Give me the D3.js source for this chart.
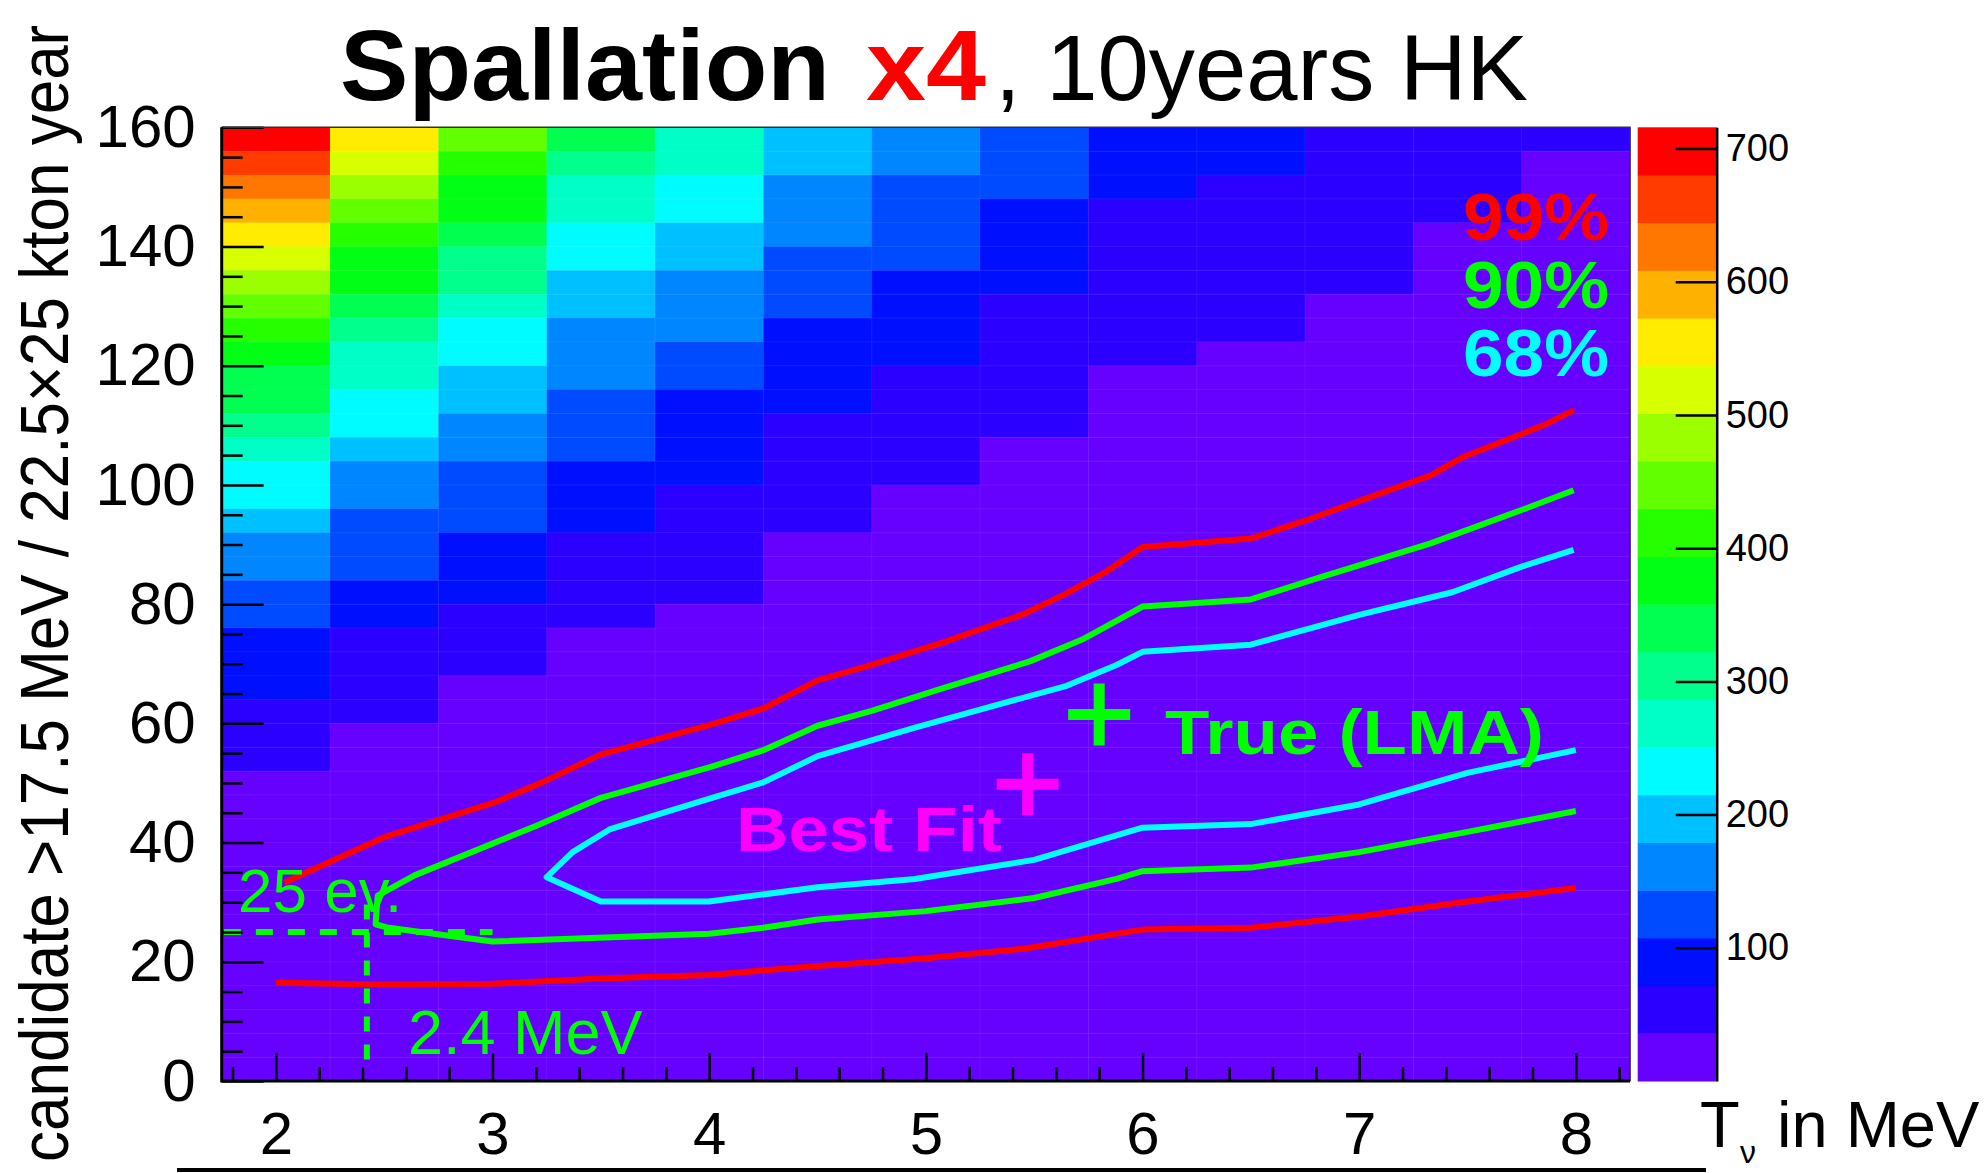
<!DOCTYPE html>
<meta charset="utf-8">
<script src="https://d3js.org/d3.v7.min.js"></script>
<style>
body { margin: 0; background: #fff; }
svg { display: block; }
text { font-family: "Liberation Sans", Arial, Helvetica, sans-serif; }
</style>
<svg id="chart" width="1988" height="1173"></svg>
<script>

// ---- data ----
// neutrino kinetic energy bin centres (bin width 0.5 MeV)
var energies = [2, 2.5, 3, 3.5, 4, 4.5, 5, 5.5, 6, 6.5, 7, 7.5, 8];
// lower edge of each rate bin, top row first (bin width 4)
var rateLow = [156,152,148,144,140,136,132,128,124,120,116,112,108,104,100,96,92,88,84,80,
               76,72,68,64,60,56,52,48,44,40,36,32,28,24,20,16,12,8,4,0];
// counts per cell, one row per rate bin (same order as rateLow), one column per energy
var counts = [
  [706,556,447,341,269,197,162,126,94,88,63,56,44],
  [664,521,414,305,262,191,158,121,89,83,60,52,32],
  [628,486,377,271,236,163,133,114,86,68,57,48,30],
  [594,449,371,262,228,158,129,101,69,64,54,43,29],
  [556,413,341,234,201,151,124,97,66,62,51,33,27],
  [519,377,305,226,193,137,119,94,64,59,46,31,25],
  [486,370,298,205,170,129,103,88,61,56,43,30,24],
  [449,343,268,196,164,123,97,67,58,52,33,28,23],
  [414,304,236,172,156,104,92,63,54,47,32,27,22],
  [378,270,230,164,137,98,86,60,50,34,30,26,21],
  [344,262,200,157,129,93,66,56,34,31,29,25,20],
  [336,235,193,138,104,86,63,53,33,30,27,24,20],
  [306,229,170,129,97,70,60,49,32,29,26,23,19],
  [270,199,162,121,92,66,56,34,30,28,25,22,19],
  [236,172,137,103,88,62,52,33,29,27,24,21,18],
  [229,160,128,96,68,58,34,31,28,26,23,20,18],
  [196,139,121,90,64,54,33,30,27,25,22,20,17],
  [168,130,101,68,60,34,31,29,26,24,21,19,17],
  [160,122,95,63,56,33,30,28,25,23,21,19,16],
  [134,104,89,59,52,32,29,27,24,22,20,18,16],
  [126,96,67,55,34,31,28,26,23,21,20,18,15],
  [102,69,61,34,32,30,27,25,22,21,19,17,15],
  [96,64,57,33,31,29,26,24,22,20,19,17,15],
  [91,60,34,32,30,28,25,23,21,20,18,16,14],
  [66,57,33,31,29,27,25,23,21,19,18,16,14],
  [62,34,32,30,28,26,24,22,20,19,17,16,14],
  [58,33,31,29,27,25,23,22,20,18,17,15,13],
  [34,32,30,28,26,24,23,21,19,18,16,15,13],
  [33,31,29,27,25,24,22,20,19,17,16,14,13],
  [32,30,28,26,25,23,21,20,18,17,15,14,12],
  [31,29,27,26,24,22,21,19,18,16,15,14,12],
  [30,28,27,25,23,22,20,19,17,16,15,13,12],
  [29,28,26,24,23,21,20,18,17,15,14,13,11],
  [28,27,25,24,22,21,19,18,16,15,14,12,11],
  [27,26,24,23,22,20,19,17,16,15,13,12,11],
  [26,25,24,22,21,20,18,17,16,14,13,12,10],
  [25,24,23,22,20,19,18,16,15,14,13,11,10],
  [24,23,22,21,20,18,17,16,15,13,12,11,10],
  [23,22,21,20,19,18,17,15,14,13,12,11,10],
  [22,21,20,19,18,17,16,15,14,13,12,11,9]
];

// confidence contours, [T_nu, rate]
var cl99Upper = [[2.04,33.3],[2.5,40.9],[3.0,46.6],[3.23,50.1],[3.5,54.8],[4.0,59.7],[4.25,62.5],[4.5,67.2],
  [4.75,69.8],[5.08,73.6],[5.45,78.3],[5.65,81.8],[5.83,85.4],[6.0,89.6],[6.5,91.0],[6.75,94.0],
  [7.03,97.7],[7.33,101.6],[7.48,104.7],[7.85,110.0],[7.99,112.5]];
var cl99Lower = [[2.0,16.5],[2.5,16.2],[3.0,16.3],[3.5,17.2],[4.0,17.8],[4.5,19.3],[5.0,20.6],[5.45,22.2],
  [6.0,25.4],[6.5,25.7],[7.0,27.6],[7.5,30.1],[8.0,32.4]];
var cl90Upper = [[2.47,31.1],[2.64,34.5],[3.2,42.8],[3.5,47.5],[4.0,52.6],[4.25,55.5],[4.5,59.6],[4.75,62.1],
  [5.08,65.9],[5.48,70.4],[5.73,74.2],[6.0,79.6],[6.5,80.8],[6.83,84.6],[7.33,90.2],[7.75,95.8],[7.99,99.1]];
var cl90Lower = [[2.47,31.1],[2.46,26.3],[2.52,25.7],[3.0,23.4],[4.0,24.7],[4.25,25.7],[4.5,27.1],[5.0,28.5],
  [5.5,30.7],[5.88,33.9],[6.0,35.2],[6.5,35.8],[7.0,38.4],[7.5,41.8],[8.0,45.3]];
var cl68Upper = [[3.25,34.2],[3.37,38.4],[3.54,42.2],[3.96,46.9],[4.25,50.1],[4.5,54.5],[4.95,59.3],[5.3,62.8],
  [5.65,66.3],[5.88,69.8],[6.0,72.0],[6.5,73.2],[7.0,78.2],[7.43,82.0],[7.75,86.3],[7.99,89.1]];
var cl68Lower = [[3.25,34.2],[3.5,30.1],[4.0,30.1],[4.5,32.5],[4.95,33.9],[5.5,37.1],[6.0,42.5],[6.5,43.1],
  [7.0,46.4],[7.5,51.7],[8.0,55.5]];

var trueLMA = [5.8, 61.5];
var bestFit = [5.47, 49.8];
var cut25 = 25;      // "25 ev." level
var cut24 = 2.42;    // "2.4 MeV" threshold line

var xTicks = [2, 3, 4, 5, 6, 7, 8];
var yTicks = [0, 20, 40, 60, 80, 100, 120, 140, 160];
var zTicks = [100, 200, 300, 400, 500, 600, 700];
var zMax = 716, nLevels = 20;

// ---- scales ----
var plot = {left: 221.7, right: 1630, top: 127.3, bottom: 1081};
var x = d3.scaleLinear().domain([1.75, 8.25]).range([plot.left, plot.right]);
var y = d3.scaleLinear().domain([0, 160]).range([plot.bottom, plot.top]);

// ROOT-like rainbow palette, violet -> red
var palette = d3.range(nLevels).map(function(i) {
  return d3.hsl(264 - i * 264 / (nLevels - 1), 1, 0.5).formatHex();
});
var color = d3.scaleQuantize().domain([0, zMax]).range(palette);

var svg = d3.select("#chart");

// ---- heat map ----
var cells = [];
counts.forEach(function(row, r) {
  row.forEach(function(v, c) {
    cells.push({e: energies[c], lo: rateLow[r], v: v});
  });
});
svg.append("g")
  .selectAll("rect")
  .data(cells)
  .enter().append("rect")
    .attr("x", function(d) { return x(d.e - 0.25); })
    .attr("y", function(d) { return y(d.lo + 4); })
    .attr("width", function(d) { return x(d.e + 0.25) - x(d.e - 0.25) + 0.5; })
    .attr("height", function(d) { return y(d.lo) - y(d.lo + 4) + 0.5; })
    .style("fill", function(d) { return color(d.v); });

// faint cell seams
var seams = svg.append("g").style("stroke", "#ffffff").style("stroke-opacity", 0.07).style("stroke-width", 1);
energies.forEach(function(e) {
  seams.append("line").attr("x1", x(e - 0.25)).attr("x2", x(e - 0.25)).attr("y1", plot.top).attr("y2", plot.bottom);
});
rateLow.forEach(function(lo) {
  seams.append("line").attr("x1", plot.left).attr("x2", plot.right).attr("y1", y(lo)).attr("y2", y(lo));
});

// ---- contours ----
var line = d3.line().x(function(d) { return x(d[0]); }).y(function(d) { return y(d[1]); });
var contours = [
  {pts: cl99Upper, col: "#ff0000"},
  {pts: cl99Lower, col: "#ff0000"},
  {pts: cl90Upper.slice().reverse().concat(cl90Lower), col: "#00ff00"},
  {pts: cl68Upper.slice().reverse().concat(cl68Lower), col: "#00ffff"}
];
svg.append("g").selectAll("path")
  .data(contours)
  .enter().append("path")
    .attr("d", function(d) { return line(d.pts); })
    .style("fill", "none")
    .style("stroke", function(d) { return d.col; })
    .style("stroke-width", 6)
    .style("stroke-linejoin", "round");

// dashed guides
svg.append("path")
  .attr("d", line([[1.76, cut25], [3.0, cut25]]))
  .style("stroke", "#00ff00").style("stroke-width", 6).style("stroke-dasharray", "17 15");
svg.append("path")
  .attr("d", line([[cut24, 29.6], [cut24, 2.4]]))
  .style("stroke", "#00ff00").style("stroke-width", 6).style("stroke-dasharray", "15 13");

// crosses
function cross(p, col) {
  var cx = x(p[0]), cy = y(p[1]), a = 31;
  svg.append("path")
    .attr("d", "M" + (cx - a) + "," + cy + "H" + (cx + a) + "M" + cx + "," + (cy - a) + "V" + (cy + a))
    .style("stroke", col).style("stroke-width", 11);
}
cross(trueLMA, "#00ff00");
cross(bestFit, "#ff00ff");

// ---- annotations ----
function label(txt, px, py, size, col, weight, len) {
  var t = svg.append("text")
    .attr("x", px).attr("y", py)
    .style("font-size", size + "px")
    .style("fill", col)
    .style("font-weight", weight)
    .text(txt);
  if (len) t.attr("textLength", len).attr("lengthAdjust", "spacingAndGlyphs");
  return t;
}
label("True (LMA)", 1165, 754, 63, "#00ff00", "bold", 379);
label("Best Fit", 736, 851, 63, "#ff00ff", "bold", 266);
label("25 ev.", 238, 912, 62, "#00ff00", "normal");
label("2.4 MeV", 408, 1054, 63, "#00ff00", "normal");
label("99%", 1463, 240, 67, "#ff0000", "bold", 146);
label("90%", 1463, 308, 67, "#00ff00", "bold", 146);
label("68%", 1463, 376, 67, "#00ffff", "bold", 146);

// ---- axes ----
function styleAxis(g) {
  g.select(".domain").remove();
  g.selectAll(".tick line").style("stroke", "#000").style("stroke-width", 2.5);
  g.selectAll(".tick text").style("font-size", "60px").style("fill", "#000")
    .style("font-family", "Liberation Sans, Arial, sans-serif");
}
var xMinor = d3.range(1.8, 8.25, 0.2).filter(function(v) { return Math.abs(v - Math.round(v)) > 0.01; });
svg.append("g").attr("transform", "translate(0," + plot.bottom + ")")
  .call(d3.axisBottom(x).tickValues(xMinor).tickSizeInner(-14).tickSizeOuter(0).tickFormat(""))
  .call(styleAxis);
svg.append("g").attr("transform", "translate(0," + plot.bottom + ")")
  .call(d3.axisBottom(x).tickValues(xTicks).tickSizeInner(-28).tickSizeOuter(0).tickPadding(30)
    .tickFormat(d3.format("d")))
  .call(styleAxis);

var yMinor = d3.range(5, 160, 5).filter(function(v) { return v % 20 !== 0; });
svg.append("g").attr("transform", "translate(" + plot.left + ",0)")
  .call(d3.axisLeft(y).tickValues(yMinor).tickSizeInner(-21).tickSizeOuter(0).tickFormat(""))
  .call(styleAxis);
svg.append("g").attr("transform", "translate(" + plot.left + ",0)")
  .call(d3.axisLeft(y).tickValues(yTicks).tickSizeInner(-42).tickSizeOuter(0).tickPadding(26))
  .call(styleAxis);

// frame
svg.append("path")
  .attr("d", "M" + plot.left + "," + plot.top + "H" + plot.right + "V" + plot.bottom)
  .style("fill", "none").style("stroke", "#333").style("stroke-width", 1.5);
svg.append("path")
  .attr("d", "M" + plot.left + "," + plot.top + "V" + plot.bottom + "H" + plot.right)
  .style("fill", "none").style("stroke", "#000").style("stroke-width", 3);

// ---- colour bar ----
var bar = {left: 1637.7, right: 1716.7};
var z = d3.scaleLinear().domain([0, zMax]).range([plot.bottom, plot.top]);
svg.append("g").selectAll("rect")
  .data(palette)
  .enter().append("rect")
    .attr("x", bar.left)
    .attr("width", bar.right - bar.left)
    .attr("y", function(d, i) { return z(zMax * (i + 1) / nLevels); })
    .attr("height", function(d, i) { return z(zMax * i / nLevels) - z(zMax * (i + 1) / nLevels) + 0.5; })
    .style("fill", function(d) { return d; });
var zAxis = svg.append("g").attr("transform", "translate(" + bar.right + ",0)")
  .call(d3.axisRight(z).tickValues(zTicks).tickSizeInner(-41).tickSizeOuter(0).tickPadding(9));
zAxis.select(".domain").style("stroke", "#000").style("stroke-width", 2.5);
zAxis.selectAll(".tick line").style("stroke", "#000").style("stroke-width", 2.5);
zAxis.selectAll(".tick text").style("font-size", "38px").style("fill", "#000")
  .style("font-family", "Liberation Sans, Arial, sans-serif");

// ---- titles ----
label("Spallation", 340, 100, 100, "#000", "bold", 490);
label("x4", 866, 100, 100, "#ff0000", "bold", 120);
label(", 10years HK", 995, 100, 93, "#000", "normal", 533);

var xt = svg.append("text").attr("x", 1700).attr("y", 1147).style("font-size", "65px").style("fill", "#000");
xt.append("tspan").text("T");
xt.append("tspan").attr("x", 1740).attr("y", 1163).style("font-size", "32px").text("\u03bd");
xt.append("tspan").attr("x", 1777).attr("y", 1147).text("in MeV");

// y title: narrow setting, glyphs thickened across the line
svg.append("text")
  .attr("transform", "translate(68,1162) rotate(-90) scale(1,1.12)")
  .style("font-size", "62px")
  .style("fill", "#000")
  .text("candidate >17.5 MeV / 22.5\u00d725 kton year");

// rule under the figure
svg.append("line")
  .attr("x1", 177).attr("x2", 1706).attr("y1", 1170).attr("y2", 1170)
  .style("stroke", "#000").style("stroke-width", 4);

</script>
